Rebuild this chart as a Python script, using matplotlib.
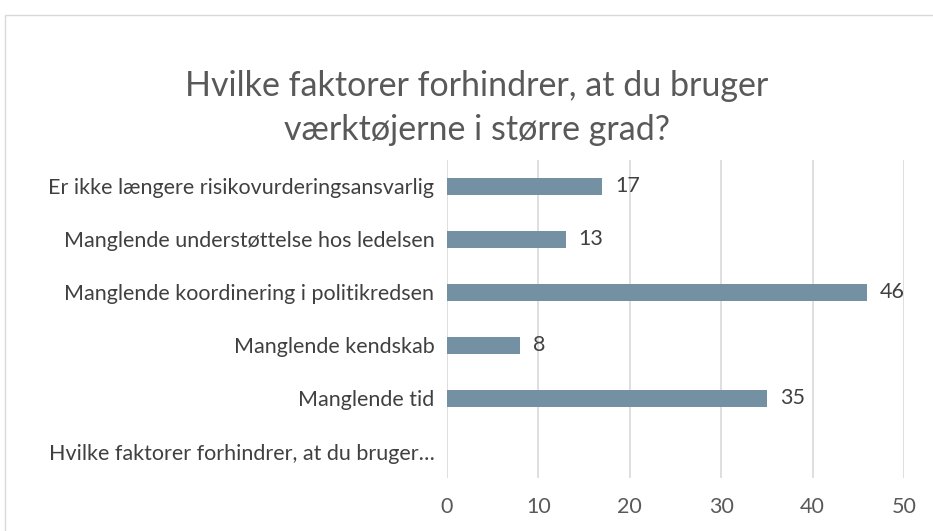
import matplotlib.pyplot as plt
from matplotlib.patches import Rectangle

categories = ["Er ikke længere risikovurderingsansvarlig",
              "Manglende understøttelse hos ledelsen",
              "Manglende koordinering i politikredsen",
              "Manglende kendskab",
              "Manglende tid",
              "Hvilke faktorer forhindrer, at du bruger…"]
values = [17, 13, 46, 8, 35, 0]
labels = ["17", "13", "46", "8", "35", ""]
ticks = [0, 10, 20, 30, 40, 50]
title = "Hvilke faktorer forhindrer, at du bruger\nværktøjerne i større grad?"

plt.rcParams['font.family'] = ['Lato', 'DejaVu Sans']

fig = plt.figure(figsize=(9.33, 5.31), dpi=100)

# light border around the chart area
fig.patches.append(Rectangle((5 / 933, -0.05), 1.0, 1 - 15 / 531 + 0.05,
                             transform=fig.transFigure, fill=False,
                             edgecolor='#d9d9d9', linewidth=1))

ax = fig.add_axes([447 / 933, 1 - 478 / 531, (904 - 447) / 933, (478 - 160) / 531])

ypos = list(range(len(categories)))[::-1]
ax.barh(ypos, values, height=0.32, color='#7491a3', zorder=3)
for y, v, lab in zip(ypos, values, labels):
    ax.text(v + 1.4, y, lab, va='center', ha='left', fontsize=15.5, color='#404040')

ax.set_xlim(0, 50)
ax.set_ylim(-0.5, len(categories) - 0.5)
ax.set_xticks(ticks)
ax.set_yticks(ypos)
ax.set_yticklabels(categories)
ax.tick_params(axis='both', length=0, labelsize=15.5, colors='#595959')
ax.tick_params(axis='y', colors='#404040', pad=9)
ax.tick_params(axis='x', pad=14)
ax.xaxis.grid(True, color='#d9d9d9', linewidth=1.2, zorder=0)
for s in ax.spines.values():
    s.set_visible(False)

fig.text(477 / 933, 1 - 108 / 531, title, ha='center', va='center',
         fontsize=24.5, color='#595959', linespacing=1.45)

fig.savefig('out.png', dpi=100)
